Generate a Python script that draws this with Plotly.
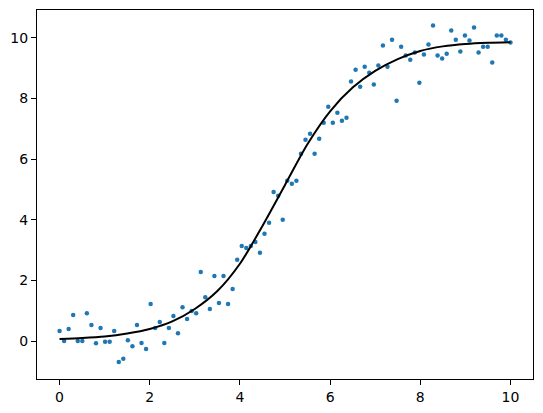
import numpy as np
import plotly.graph_objects as go

# scatter data (x = 100 evenly spaced samples from 0 to 10)
x_data = np.linspace(0, 10, 100)
y_data = [
    0.33, 0.00, 0.40, 0.86, 0.00, 0.00, 0.92, 0.53, -0.07, 0.43,
    -0.02, -0.02, 0.33, -0.69, -0.58, 0.03, -0.17, 0.53, -0.06, -0.26,
    1.22, 0.43, 0.63, -0.06, 0.43, 0.83, 0.26, 1.12, 0.73, 0.99,
    0.92, 2.28, 1.45, 1.06, 2.15, 1.26, 2.15, 1.22, 1.72, 2.68,
    3.14, 3.07, 3.14, 3.27, 2.91, 3.54, 3.90, 4.92, 4.79, 4.00,
    5.29, 5.19, 5.29, 6.18, 6.64, 6.84, 6.18, 6.67, 7.20, 7.73,
    7.20, 7.53, 7.27, 7.37, 8.56, 8.95, 8.39, 9.05, 8.85, 8.46,
    9.09, 9.75, 9.05, 9.94, 7.93, 9.71, 9.42, 9.28, 9.52, 8.52,
    9.45, 9.78, 10.41, 9.42, 9.32, 9.48, 10.24, 9.94, 9.55, 10.08,
    9.91, 10.34, 9.52, 9.71, 9.71, 9.19, 10.08, 10.08, 9.94, 9.85,
]

# fitted curve
x_fit = [0, 0.5, 1, 1.5, 2, 2.5, 3, 3.5, 4, 4.5, 5, 5.5, 6, 6.5, 7, 7.5, 8, 8.5, 9, 9.5, 10]
y_fit = [0.07, 0.10, 0.15, 0.25, 0.40, 0.65, 1.06, 1.65, 2.55, 3.80, 5.15, 6.50, 7.58, 8.36, 8.91, 9.30, 9.57, 9.72, 9.80, 9.84, 9.86]

x_ticks = [0, 2, 4, 6, 8, 10]
y_ticks = [0, 2, 4, 6, 8, 10]

fig = go.Figure()
fig.add_trace(go.Scatter(
    x=x_data, y=y_data, mode="markers",
    marker=dict(color="#1f77b4", size=4.5, line=dict(width=0)),
    showlegend=False,
))
fig.add_trace(go.Scatter(
    x=x_fit, y=y_fit, mode="lines",
    line=dict(color="black", width=2, shape="spline", smoothing=0.8),
    showlegend=False,
))

axis_common = dict(
    showgrid=False, zeroline=False, showline=True, linecolor="black", linewidth=1,
    mirror=True, ticks="outside", ticklen=5, tickwidth=1, tickcolor="black",
    tickfont=dict(family="DejaVu Sans", size=14, color="black"),
)
fig.update_xaxes(range=[-0.5, 10.5], tickvals=x_ticks, ticktext=[str(v) for v in x_ticks], **axis_common)
fig.update_yaxes(range=[-1.25, 10.92], tickvals=y_ticks, ticktext=[str(v) for v in y_ticks], **axis_common)

fig.update_layout(
    width=543, height=413,
    margin=dict(l=37, r=10, t=10, b=34, autoexpand=False),
    paper_bgcolor="white", plot_bgcolor="white",
)
fig.write_html(
    "out.html",
    config={"displayModeBar": False},
    post_script="document.body.style.margin='0';document.body.style.overflow='hidden';",
)
